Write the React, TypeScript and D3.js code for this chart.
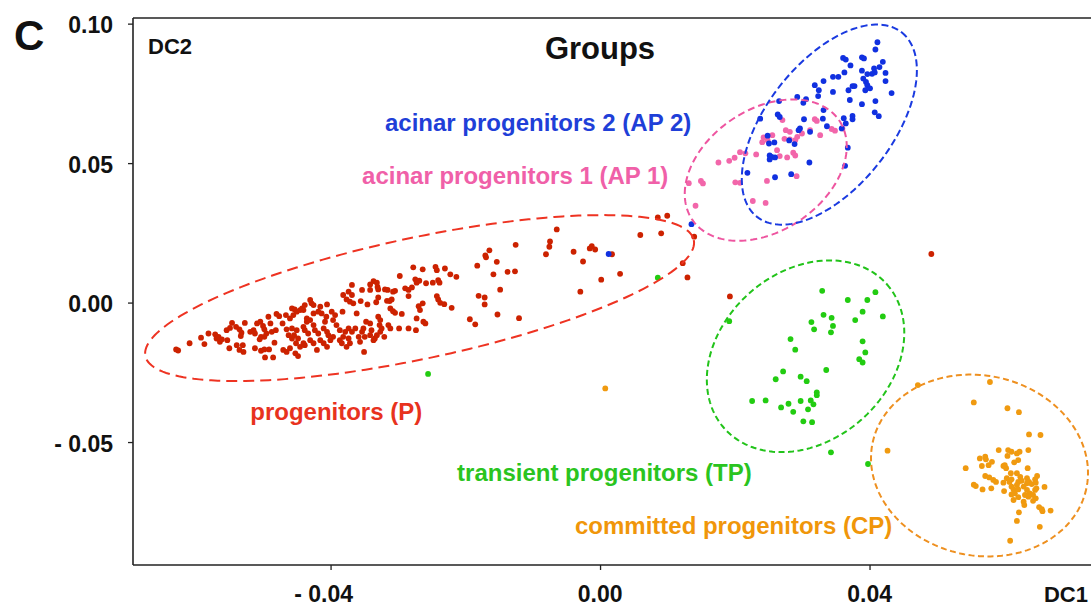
import React from 'react';
import * as d3 from 'd3';

type Pt = [number, number];

// ---------------- DATA (DC1, DC2) ----------------
const progenitors: Pt[] = [
  [-0.0630,-0.0166],[-0.0627,-0.0170],[-0.0610,-0.0144],[-0.0593,-0.0124],[-0.0588,-0.0147],[-0.0582,-0.0109],
  [-0.0572,-0.0112],[-0.0570,-0.0127],[-0.0565,-0.0139],[-0.0567,-0.0121],[-0.0562,-0.0130],[-0.0554,-0.0133],
  [-0.0555,-0.0097],[-0.0550,-0.0089],[-0.0547,-0.0071],[-0.0551,-0.0162],[-0.0541,-0.0085],[-0.0536,-0.0094],
  [-0.0533,-0.0106],[-0.0534,-0.0118],[-0.0540,-0.0151],[-0.0536,-0.0168],[-0.0530,-0.0175],[-0.0528,-0.0071],
  [-0.0520,-0.0103],[-0.0515,-0.0097],[-0.0513,-0.0109],[-0.0510,-0.0073],[-0.0505,-0.0067],[-0.0501,-0.0082],
  [-0.0499,-0.0094],[-0.0504,-0.0121],[-0.0506,-0.0130],[-0.0513,-0.0162],[-0.0504,-0.0171],[-0.0499,-0.0166],
  [-0.0493,-0.0049],[-0.0490,-0.0073],[-0.0488,-0.0103],[-0.0484,-0.0142],[-0.0492,-0.0166],[-0.0481,-0.0039],
  [-0.0477,-0.0047],[-0.0482,-0.0097],[-0.0472,-0.0073],[-0.0466,-0.0094],[-0.0467,-0.0043],[-0.0461,-0.0055],
  [-0.0463,-0.0115],[-0.0458,-0.0127],[-0.0471,-0.0168],[-0.0466,-0.0175],[-0.0461,-0.0162],[-0.0486,-0.0195],
  [-0.0498,-0.0195],[-0.0458,-0.0019],[-0.0454,-0.0023],[-0.0453,-0.0180],[-0.0449,-0.0190],[-0.0452,-0.0144],
  [-0.0455,-0.0115],[-0.0456,-0.0043],[-0.0451,-0.0031],[-0.0446,-0.0025],[-0.0443,-0.0019],[-0.0439,-0.0007],
  [-0.0441,-0.0025],[-0.0436,-0.0055],[-0.0431,-0.0061],[-0.0429,-0.0001],[-0.0431,0.0011],[-0.0426,-0.0007],
  [-0.0416,-0.0013],[-0.0426,-0.0037],[-0.0406,-0.0005],[-0.0419,-0.0031],[-0.0414,-0.0037],[-0.0407,-0.0049],
  [-0.0409,-0.0067],[-0.0399,-0.0031],[-0.0394,-0.0043],[-0.0397,-0.0061],[-0.0383,-0.0031],[-0.0426,-0.0079],
  [-0.0424,-0.0097],[-0.0419,-0.0109],[-0.0441,-0.0085],[-0.0439,-0.0097],[-0.0434,-0.0109],[-0.0451,-0.0097],
  [-0.0449,-0.0127],[-0.0431,-0.0133],[-0.0426,-0.0144],[-0.0439,-0.0151],[-0.0446,-0.0157],[-0.0416,-0.0133],
  [-0.0411,-0.0144],[-0.0406,-0.0157],[-0.0411,-0.0091],[-0.0406,-0.0103],[-0.0397,-0.0121],[-0.0401,-0.0133],
  [-0.0404,-0.0115],[-0.0392,-0.0079],[-0.0387,-0.0097],[-0.0374,-0.0127],[-0.0372,-0.0144],[-0.0387,-0.0133],
  [-0.0384,-0.0144],[-0.0374,-0.0091],[-0.0379,-0.0103],[-0.0382,-0.0121],[-0.0364,-0.0091],[-0.0369,-0.0103],
  [-0.0359,-0.0121],[-0.0357,-0.0139],[-0.0352,-0.0091],[-0.0354,-0.0103],[-0.0350,-0.0121],[-0.0348,-0.0067],
  [-0.0342,-0.0073],[-0.0330,-0.0049],[-0.0327,-0.0061],[-0.0328,-0.0079],[-0.0325,-0.0091],[-0.0327,-0.0103],
  [-0.0332,-0.0115],[-0.0335,-0.0127],[-0.0337,-0.0133],[-0.0342,-0.0115],[-0.0340,-0.0097],[-0.0315,-0.0079],
  [-0.0312,-0.0091],[-0.0321,-0.0121],[-0.0299,-0.0091],[-0.0362,-0.0037],[-0.0382,0.0029],[-0.0377,0.0013],
  [-0.0372,0.0005],[-0.0367,-0.0001],[-0.0356,0.0007],[-0.0346,-0.0005],[-0.0333,0.0003],[-0.0369,0.0065],
  [-0.0374,0.0041],[-0.0369,0.0029],[-0.0354,0.0047],[-0.0342,0.0047],[-0.0331,0.0058],[-0.0330,0.0049],
  [-0.0337,0.0079],[-0.0332,0.0073],[-0.0342,0.0067],[-0.0320,0.0049],[-0.0316,0.0047],[-0.0308,0.0041],
  [-0.0330,0.0020],[-0.0317,0.0008],[-0.0313,0.0007],[-0.0310,0.0013],[-0.0308,-0.0029],[-0.0312,-0.0019],
  [-0.0305,-0.0035],[-0.0295,-0.0039],[-0.0298,0.0097],[-0.0290,0.0053],[-0.0285,0.0047],[-0.0280,0.0056],
  [-0.0305,0.0044],[-0.0285,0.0025],[-0.0278,0.0128],[-0.0264,0.0121],[-0.0275,0.0085],[-0.0269,0.0080],
  [-0.0273,0.0073],[-0.0259,0.0071],[-0.0249,0.0073],[-0.0241,0.0082],[-0.0239,0.0073],[-0.0245,0.0130],
  [-0.0243,0.0118],[-0.0231,0.0124],[-0.0223,0.0103],[-0.0214,0.0094],[-0.0243,0.0025],[-0.0241,0.0013],
  [-0.0238,0.0001],[-0.0232,-0.0004],[-0.0221,-0.0017],[-0.0270,-0.0011],[-0.0264,-0.0001],[-0.0268,-0.0025],
  [-0.0263,-0.0067],[-0.0260,-0.0073],[-0.0273,-0.0055],[-0.0274,-0.0097],[-0.0285,-0.0091],[-0.0377,-0.0157],
  [-0.0351,-0.0175],[-0.0421,-0.0168],[-0.0183,0.0134],[-0.0165,0.0189],[-0.0171,0.0171],[-0.0170,0.0164],
  [-0.0154,0.0148],[-0.0126,0.0209],[-0.0159,0.0103],[-0.0138,0.0112],[-0.0127,0.0114],[-0.0149,0.0048],
  [-0.0181,0.0026],[-0.0172,0.0020],[-0.0172,-0.0005],[-0.0153,-0.0041],[-0.0121,-0.0054],[-0.0194,-0.0058],
  [-0.0186,-0.0076],[-0.0065,0.0264],[-0.0075,0.0221],[-0.0076,0.0202],[-0.0081,0.0175],[-0.0040,0.0184],
  [-0.0016,0.0196],[-0.0013,0.0204],[-0.0008,0.0192],[0.0017,0.0175],[-0.0026,0.0149],[0.0029,0.0105],
  [0.0001,0.0084],[-0.0030,0.0041],[0.0059,0.0244],[0.0085,0.0307],[0.0099,0.0313],[0.0090,0.0250],
  [0.0139,0.0238],[0.0122,0.0143],[0.0129,0.0092],[0.0192,0.0024],[0.0491,0.0176],
  [-0.0531,-0.0151],[-0.0499,-0.0121],[-0.0441,-0.0144],[-0.0436,-0.0067],[-0.0496,-0.0109],[-0.0458,-0.0091],
];

const acinar1: Pt[] = [
  [0.0131,0.0430],[0.0149,0.0438],[0.0152,0.0429],[0.0141,0.0349],[0.0175,0.0504],[0.0191,0.0510],
  [0.0199,0.0521],[0.0207,0.0541],[0.0215,0.0537],[0.0231,0.0533],[0.0200,0.0433],[0.0207,0.0431],
  [0.0226,0.0366],[0.0245,0.0359],[0.0247,0.0438],[0.0240,0.0577],[0.0242,0.0594],[0.0248,0.0584],
  [0.0255,0.0602],[0.0266,0.0527],[0.0277,0.0522],[0.0286,0.0539],[0.0289,0.0529],[0.0273,0.0589],
  [0.0281,0.0587],[0.0289,0.0584],[0.0292,0.0596],[0.0299,0.0608],[0.0270,0.0656],[0.0275,0.0620],
  [0.0281,0.0614],[0.0291,0.0455],[0.0311,0.0620],[0.0318,0.0659],[0.0321,0.0653],[0.0326,0.0602],
  [0.0343,0.0624],[0.0348,0.0618],[0.0359,0.0626],[0.0262,0.0548],
];

const acinar2: Pt[] = [
  [0.0411,0.0935],[0.0408,0.0909],[0.0360,0.0879],[0.0364,0.0873],[0.0388,0.0881],[0.0391,0.0877],
  [0.0371,0.0852],[0.0419,0.0865],[0.0388,0.0833],[0.0406,0.0841],[0.0414,0.0846],[0.0407,0.0827],
  [0.0403,0.0822],[0.0396,0.0821],[0.0423,0.0825],[0.0362,0.0827],[0.0345,0.0811],[0.0353,0.0811],
  [0.0390,0.0805],[0.0394,0.0793],[0.0396,0.0781],[0.0400,0.0770],[0.0393,0.0763],[0.0423,0.0796],
  [0.0331,0.0796],[0.0318,0.0781],[0.0374,0.0778],[0.0377,0.0778],[0.0368,0.0763],[0.0324,0.0763],
  [0.0323,0.0742],[0.0345,0.0757],[0.0432,0.0753],[0.0292,0.0739],[0.0305,0.0731],[0.0301,0.0718],
  [0.0370,0.0728],[0.0408,0.0724],[0.0388,0.0713],[0.0265,0.0724],[0.0331,0.0692],[0.0407,0.0684],
  [0.0413,0.0670],[0.0374,0.0671],[0.0374,0.0659],[0.0361,0.0663],[0.0237,0.0661],[0.0263,0.0676],
  [0.0266,0.0667],[0.0302,0.0659],[0.0330,0.0661],[0.0364,0.0644],[0.0358,0.0626],[0.0336,0.0634],
  [0.0294,0.0620],[0.0296,0.0626],[0.0311,0.0614],[0.0280,0.0583],[0.0288,0.0570],[0.0248,0.0600],
  [0.0250,0.0572],[0.0258,0.0576],[0.0367,0.0557],[0.0251,0.0529],[0.0254,0.0524],[0.0259,0.0522],
  [0.0251,0.0515],[0.0310,0.0504],[0.0363,0.0492],[0.0218,0.0467],[0.0283,0.0462],[0.0259,0.0451],
  [0.0135,0.0283],[0.0012,0.0176],
];

const transient: Pt[] = [
  [0.0191,-0.0065],[0.0329,0.0044],[0.0367,0.0011],[0.0396,0.0011],[0.0408,0.0039],[0.0389,-0.0031],
  [0.0378,-0.0061],[0.0419,-0.0048],[0.0331,-0.0042],[0.0343,-0.0053],[0.0345,-0.0082],[0.0342,-0.0105],
  [0.0313,-0.0068],[0.0317,-0.0094],[0.0282,-0.0129],[0.0289,-0.0167],[0.0389,-0.0137],[0.0393,-0.0177],
  [0.0384,-0.0201],[0.0389,-0.0213],[0.0335,-0.0240],[0.0271,-0.0245],[0.0260,-0.0273],[0.0297,-0.0264],
  [0.0306,-0.0280],[0.0225,-0.0351],[0.0245,-0.0349],[0.0268,-0.0374],[0.0279,-0.0361],[0.0286,-0.0390],
  [0.0297,-0.0351],[0.0308,-0.0381],[0.0312,-0.0349],[0.0316,-0.0363],[0.0321,-0.0320],[0.0321,-0.0330],
  [0.0301,-0.0424],[0.0314,-0.0427],[0.0342,-0.0535],[0.0397,-0.0577],[-0.0256,-0.0254],[0.0085,0.0091],
];

const committed: Pt[] = [
  [0.0471,-0.0294],[0.0578,-0.0283],[0.0554,-0.0356],[0.0604,-0.0377],[0.0621,-0.0391],[0.0636,-0.0471],
  [0.0653,-0.0473],[0.0426,-0.0529],[0.0542,-0.0592],[0.0554,-0.0651],[0.0557,-0.0656],[0.0652,-0.0802],
  [0.0618,-0.0781],[0.0608,-0.0852],[0.0668,-0.0744],[0.0659,-0.0659],[0.0591,-0.0527],[0.0605,-0.0527],
  [0.0610,-0.0533],[0.0618,-0.0539],[0.0622,-0.0533],[0.0620,-0.0563],[0.0635,-0.0527],[0.0604,-0.0548],
  [0.0614,-0.0571],[0.0563,-0.0557],[0.0571,-0.0551],[0.0572,-0.0560],[0.0581,-0.0569],[0.0566,-0.0584],
  [0.0576,-0.0581],[0.0598,-0.0584],[0.0602,-0.0592],[0.0600,-0.0581],[0.0609,-0.0610],[0.0634,-0.0592],
  [0.0571,-0.0620],[0.0577,-0.0625],[0.0583,-0.0634],[0.0587,-0.0641],[0.0598,-0.0644],[0.0603,-0.0628],
  [0.0607,-0.0641],[0.0610,-0.0632],[0.0618,-0.0610],[0.0623,-0.0623],[0.0625,-0.0637],[0.0620,-0.0641],
  [0.0633,-0.0628],[0.0636,-0.0641],[0.0640,-0.0649],[0.0633,-0.0646],[0.0648,-0.0620],[0.0645,-0.0632],
  [0.0646,-0.0644],[0.0567,-0.0668],[0.0580,-0.0664],[0.0599,-0.0674],[0.0610,-0.0658],[0.0613,-0.0668],
  [0.0615,-0.0682],[0.0618,-0.0652],[0.0620,-0.0668],[0.0610,-0.0686],[0.0613,-0.0706],[0.0620,-0.0696],
  [0.0628,-0.0658],[0.0633,-0.0670],[0.0637,-0.0682],[0.0635,-0.0694],[0.0630,-0.0688],[0.0645,-0.0670],
  [0.0647,-0.0664],[0.0642,-0.0688],[0.0646,-0.0700],[0.0642,-0.0709],[0.0628,-0.0712],[0.0629,-0.0724],
  [0.0651,-0.0732],[0.0655,-0.0739],[0.0656,-0.0746],[0.0621,-0.0750],[0.0007,-0.0306],
];

// confidence ellipses: centre and two semi-axis vectors (data units)
const groupNames = ['progenitors (P)', 'acinar progenitors 1 (AP 1)', 'acinar progenitors 2 (AP 2)', 'transient progenitors (TP)', 'committed progenitors (CP)'];
const ellipseCentres: Pt[] = [[-0.02686, 0.00179], [0.02452, 0.04767], [0.03396, 0.06398], [0.03043, -0.01907], [0.05625, -0.05824]];
const ellipseAxisA: Pt[] = [[0.04070, 0.02082], [0.01091, 0.01778], [0.01073, 0.03308], [0.01207, 0.02581], [0.01585, -0.00835]];
const ellipseAxisB: Pt[] = [[0.00187, -0.02125], [0.00505, -0.01806], [0.00733, -0.01387], [0.00831, -0.02269], [-0.00285, -0.03151]];

const yTickValues = [0.1, 0.05, 0, -0.05];
const yTickLabels = ['0.10', '0.05', '0.00', '- 0.05'];
const xTickValues = [-0.04, 0, 0.04];
const xTickLabels = ['- 0.04', '0.00', '0.04'];

// ---------------- LAYOUT / STYLE ----------------
const W = 1091, H = 606;
const plot = { left: 133, right: 1091, top: 18, bottom: 565 };
const FONT = "'Liberation Sans', Arial, Helvetica, sans-serif";

const pointColors = ['#cc2200', '#f266aa', '#1030e0', '#22cc11', '#f09a10'];
const ellipseColors = ['#ee3322', '#ee55a0', '#1a3ae0', '#22c31a', '#ee9020'];
const labelColors = ['#e8321e', '#f060a8', '#1f3fd8', '#2ac420', '#f0960a'];
const dashes = ['11,6', '7,4', '7,3.5', '6,3.5', '6,3.5'];
// label anchors (start x, baseline y) in data units
const labelPos: Pt[] = [[-0.0520, -0.0419], [-0.0354, 0.0427], [-0.0320, 0.0616], [-0.0213, -0.0638], [-0.0038, -0.0828]];

const seriesList = [progenitors, acinar1, acinar2, transient, committed];

export default function App() {
  const x = d3.scaleLinear().domain([-0.0694, 0.0728]).range([plot.left, plot.right]);
  const y = d3.scaleLinear().domain([-0.0939, 0.1022]).range([plot.bottom, plot.top]);

  const ellipsePath = (i: number) => {
    const c = ellipseCentres[i], a = ellipseAxisA[i], b = ellipseAxisB[i];
    const ts = d3.range(0, 2 * Math.PI, Math.PI / 90);
    const pts: Pt[] = ts.map(t => [
      x(c[0] + a[0] * Math.cos(t) + b[0] * Math.sin(t)),
      y(c[1] + a[1] * Math.cos(t) + b[1] * Math.sin(t)),
    ]);
    return d3.line().curve(d3.curveLinearClosed)(pts) || '';
  };

  const drawOrder = [0, 3, 4, 1, 2];

  return (
    <svg width={W} height={H} style={{ position: 'absolute', left: 0, top: 0, background: '#fff' }}
      fontFamily={FONT} fontWeight="bold">
      <rect x={0} y={0} width={W} height={H} fill="#fff" />
      {/* axes */}
      <line x1={plot.left} x2={plot.right} y1={plot.top} y2={plot.top} stroke="#222" strokeWidth={1.6} />
      <line x1={plot.left} x2={plot.left} y1={plot.top} y2={plot.bottom} stroke="#222" strokeWidth={1.6} />
      <line x1={plot.left} x2={plot.right} y1={plot.bottom} y2={plot.bottom} stroke="#222" strokeWidth={1.6} />
      {yTickValues.map((v, i) => (
        <g key={'y' + i}>
          <line x1={plot.left - 5} x2={plot.left} y1={y(v)} y2={y(v)} stroke="#222" strokeWidth={1.3} />
          <text x={113} y={y(v) + 9} textAnchor="end" fontSize={23} fill="#111">{yTickLabels[i]}</text>
        </g>
      ))}
      {xTickValues.map((v, i) => (
        <g key={'x' + i}>
          <line x1={x(v)} x2={x(v)} y1={plot.bottom} y2={plot.bottom + 5} stroke="#222" strokeWidth={1.3} />
          <text x={x(v) + 22} y={602} textAnchor="end" fontSize={23} fill="#111">{xTickLabels[i]}</text>
        </g>
      ))}
      <text x={1088} y={602} textAnchor="end" fontSize={22} fill="#111">DC1</text>
      <text x={148} y={54} fontSize={22} fill="#111">DC2</text>
      <text x={14} y={50} fontSize={42} fill="#111">C</text>
      <text x={600} y={59} textAnchor="middle" fontSize={31} fill="#111">Groups</text>

      {/* points */}
      {drawOrder.map(gi => (
        <g key={'s' + gi} fill={pointColors[gi]}>
          {seriesList[gi].map((p, j) => (
            <circle key={j} cx={x(p[0])} cy={y(p[1])} r={2.9} />
          ))}
        </g>
      ))}
      {/* ellipses */}
      {groupNames.map((n, i) => (
        <path key={'e' + i} d={ellipsePath(i)} fill="none" stroke={ellipseColors[i]} strokeWidth={2}
          strokeDasharray={dashes[i]} />
      ))}
      {/* labels */}
      {groupNames.map((n, i) => (
        <text key={'l' + i} x={x(labelPos[i][0])} y={y(labelPos[i][1])} fontSize={24} fill={labelColors[i]}>{n}</text>
      ))}
    </svg>
  );
}
